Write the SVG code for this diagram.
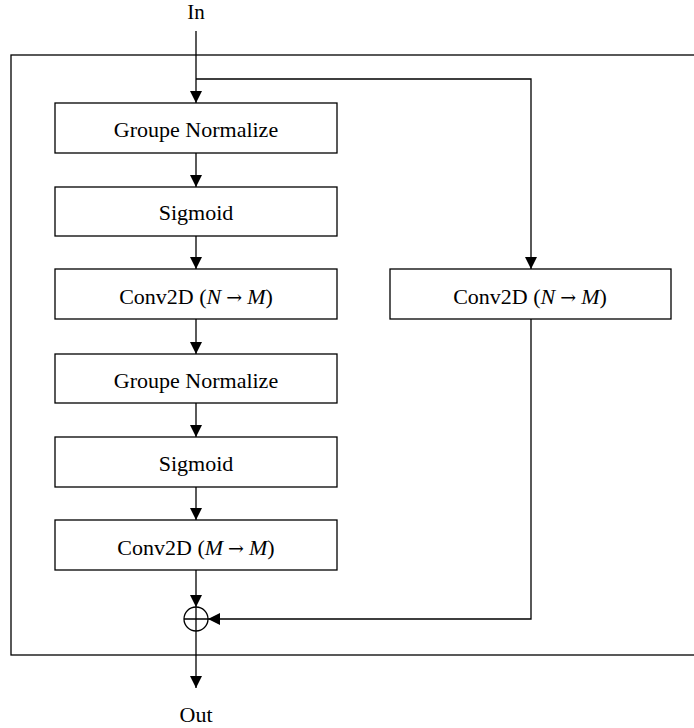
<svg xmlns="http://www.w3.org/2000/svg" width="694" height="728" viewBox="0 0 694 728">
<style>
.box{fill:#fff;stroke:#000;stroke-width:1.3}
.ln{fill:none;stroke:#000;stroke-width:1.3}
.t{font-family:"Liberation Serif","Times New Roman",serif;font-size:22px;fill:#000;text-anchor:middle}
.m{font-style:italic}
.a{font-family:"DejaVu Serif","Liberation Serif",serif;font-size:19px}
</style>
<defs>
<marker id="ah" viewBox="0 0 12 12" refX="12" refY="6" markerWidth="12" markerHeight="12" markerUnits="userSpaceOnUse" orient="auto">
<path d="M0,0 L12,6 L0,12 Z" fill="#000"/>
</marker>
</defs>
<rect id="frame" x="11" y="55" width="700" height="600" class="ln"/>
<g id="connectors">
<path class="ln" d="M196,31 V103" marker-end="url(#ah)"/>
<path class="ln" d="M196,79 H531 V269" marker-end="url(#ah)"/>
<path class="ln" d="M196,153 V187" marker-end="url(#ah)"/>
<path class="ln" d="M196,236 V269" marker-end="url(#ah)"/>
<path class="ln" d="M196,319 V354" marker-end="url(#ah)"/>
<path class="ln" d="M196,403 V437" marker-end="url(#ah)"/>
<path class="ln" d="M196,487 V520" marker-end="url(#ah)"/>
<path class="ln" d="M196,570 V607" marker-end="url(#ah)"/>
<path class="ln" d="M531,319 V619 H208" marker-end="url(#ah)"/>
<path class="ln" d="M196,631 V688" marker-end="url(#ah)"/>
</g>
<g id="in"><text class="t" x="196" y="19" style="font-size:21px">In</text></g>
<g id="gn1"><rect class="box" x="55" y="103" width="282" height="50"/><text class="t" x="196" y="137">Groupe Normalize</text></g>
<g id="sig1"><rect class="box" x="55" y="187" width="282" height="49"/><text class="t" x="196" y="220">Sigmoid</text></g>
<g id="conv1"><rect class="box" x="55" y="269" width="282" height="50"/><text class="t" x="196" y="304">Conv2D (<tspan class="m">N</tspan><tspan class="a" dx="5">→</tspan><tspan class="m" dx="5">M</tspan>)</text></g>
<g id="gn2"><rect class="box" x="55" y="354" width="282" height="49"/><text class="t" x="196" y="388">Groupe Normalize</text></g>
<g id="sig2"><rect class="box" x="55" y="437" width="282" height="50"/><text class="t" x="196" y="471">Sigmoid</text></g>
<g id="conv2"><rect class="box" x="55" y="520" width="282" height="50"/><text class="t" x="196" y="555">Conv2D (<tspan class="m">M</tspan><tspan class="a" dx="5">→</tspan><tspan class="m" dx="5">M</tspan>)</text></g>
<g id="conv3"><rect class="box" x="390" y="269" width="281" height="50"/><text class="t" x="530" y="304">Conv2D (<tspan class="m">N</tspan><tspan class="a" dx="5">→</tspan><tspan class="m" dx="5">M</tspan>)</text></g>
<g id="add"><circle cx="196" cy="619" r="12" class="ln"/><path class="ln" d="M184,619 H208 M196,607 V631"/></g>
<g id="out"><text class="t" x="196" y="722">Out</text></g>
</svg>
